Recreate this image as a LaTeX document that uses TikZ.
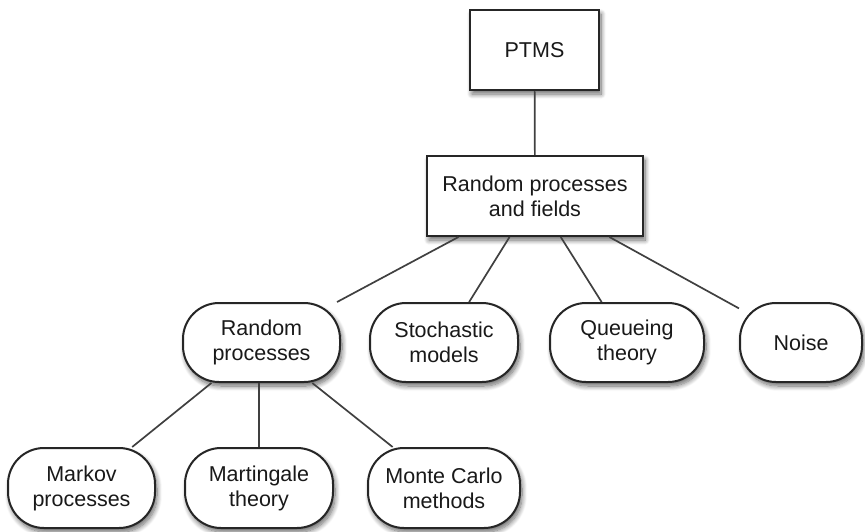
\documentclass[tikz,border=0pt]{standalone}
\usepackage{fontspec}
\setmainfont{Liberation Sans}
\usetikzlibrary{shadows.blur}
\begin{document}
\begin{tikzpicture}[x=1pt,y=-1pt,
  every node/.style={font=\fontsize{21.5}{25}\selectfont, text=black!90, align=center},
  boxshadow/.style={blur shadow={shadow xshift=2pt, shadow yshift=-4pt,
      shadow blur radius=5pt, shadow blur steps=10, shadow opacity=60}},
  sqbox/.style={draw=black!85, line width=2pt, fill=white, boxshadow,
      inner sep=0pt},
  rbox/.style={draw=black!85, line width=2pt, fill=white, boxshadow,
      rounded corners=36pt, inner sep=0pt},
  link/.style={draw=black!75, line width=1.7pt}]
  \useasboundingbox (0,0) rectangle (865,531);

  % top level
  \node[sqbox, minimum width=129pt, minimum height=80pt] (ptms) at (534.5,50) {PTMS};
  \node[sqbox, minimum width=216pt, minimum height=80pt] (rpf) at (535,196)
    {Random processes\\and fields};

  % second level
  \node[rbox, minimum width=157pt, minimum height=79pt] (rp) at (261.5,342.5)
    {Random\\processes};
  \node[rbox, minimum width=148pt, minimum height=79pt] (sm) at (444,342.5)
    {Stochastic\\models};
  \node[rbox, minimum width=154pt, minimum height=79pt] (qt) at (627,342.5)
    {Queueing\\theory};
  \node[rbox, minimum width=122pt, minimum height=79pt] (noise) at (801,342.5)
    {Noise};

  % third level
  \node[rbox, minimum width=147pt, minimum height=80pt] (mp) at (81.5,488)
    {Markov\\processes};
  \node[rbox, minimum width=148pt, minimum height=80pt] (mt) at (259,488)
    {Martingale\\theory};
  \node[rbox, minimum width=152pt, minimum height=80pt] (mc) at (444,488)
    {Monte Carlo\\methods};

  % connectors
  \path[link] (ptms) -- (rpf);
  \path[link] (rpf) -- (rp);
  \path[link] (rpf) -- (sm);
  \path[link] (rpf) -- (qt);
  \path[link] (rpf) -- (noise);
  \path[link] (rp) -- (mp);
  \path[link] (rp.south -| mt) -- (mt);
  \path[link] (rp) -- (mc);
\end{tikzpicture}
\end{document}
